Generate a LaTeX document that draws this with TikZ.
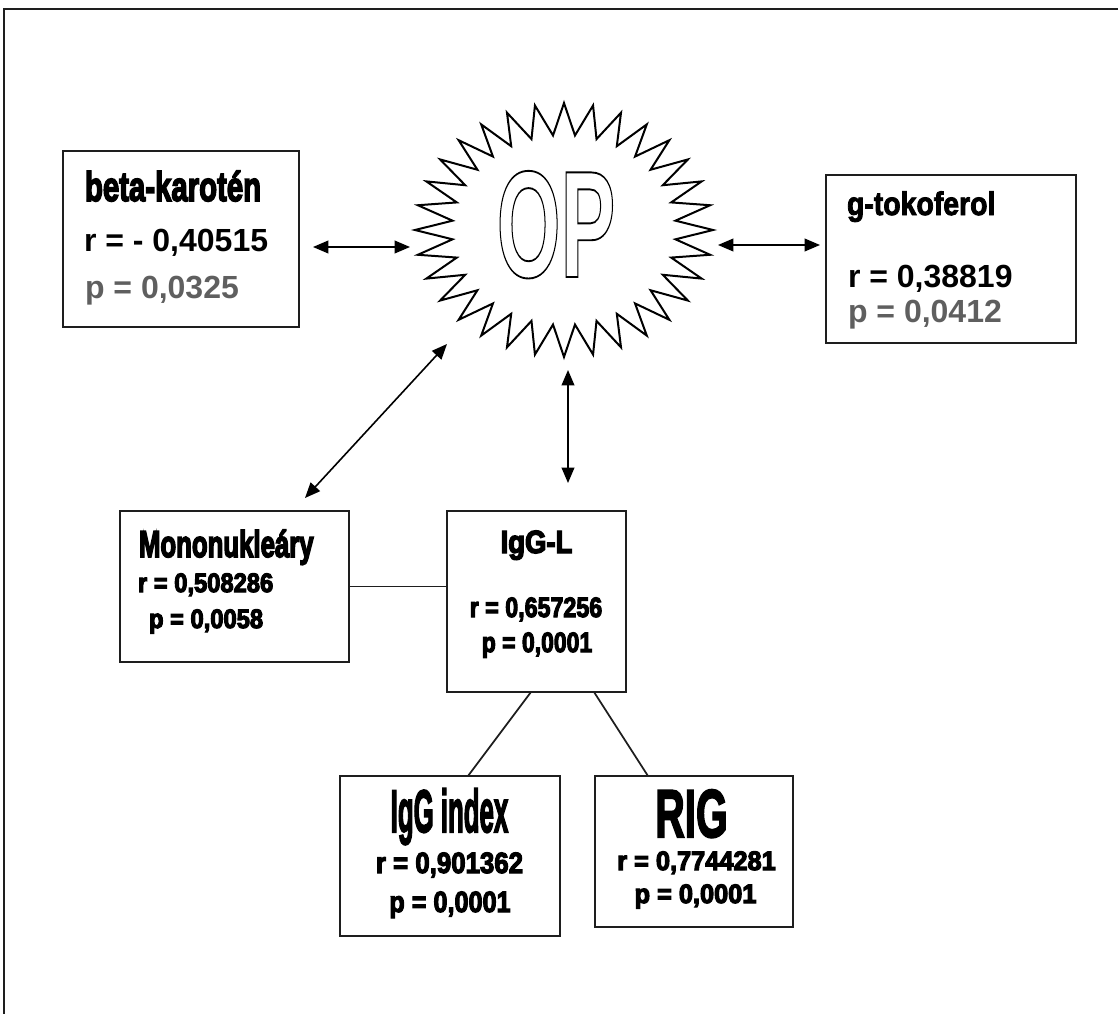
\documentclass[tikz,border=0pt]{standalone}
\usepackage{fontspec}
\setmainfont{Liberation Sans}
\usepackage{graphicx}
\usetikzlibrary{arrows.meta,calc,fit}
\definecolor{pgray}{RGB}{95,95,95}
\definecolor{ink}{RGB}{30,30,30}
% size, horizontal scale, text
\newcommand{\tx}[3]{{\fontsize{#1}{#1}\selectfont\bfseries\scalebox{#2}[1]{#3}}}
% size, horizontal scale, stroke width (heavier), text
\newcommand{\txh}[4]{{\fontsize{#1}{#1}\selectfont\bfseries\special{pdf:literal direct 2 Tr #3 w}\scalebox{#2}[1]{#4}\special{pdf:literal direct 0 Tr}}}
\begin{document}
\begin{tikzpicture}[x=0.75pt,y=-0.75pt,
  box/.style={draw=ink, line width=1.6pt, fill=white, inner sep=0pt, outer sep=0pt},
  lbl/.style={inner sep=0pt, outer sep=0pt, text=black},
  link/.style={draw=ink, line width=1.3pt},
  dbl/.style={draw=black, line width=1.2pt, {Triangle[length=11.5pt,width=9.5pt]}-{Triangle[length=11.5pt,width=9.5pt]}},
  burst/.style={draw=black, line width=1.5pt, fill=white, line join=miter},
  frame/.style={draw=ink, line width=2.2pt}
]
\useasboundingbox (0,0) rectangle (1118,1014);
\fill[white] (0,0) rectangle (1118,1014);
\draw[frame] (4,1014) -- (4,9) -- (1118,9);

% starburst
\coordinate (op) at (564,230);
\draw[burst] ({564+149},230)
  \foreach \k in {0,...,31} {
    -- ({564+112*cos(\k*11.25+5.625)},{230-95*sin(\k*11.25+5.625)})
    -- ({564+149*cos((\k+1)*11.25)},{230-127*sin((\k+1)*11.25)})
  } -- cycle;
\node[lbl, anchor=base] (optext) at (556,277)
  {\fontsize{114}{114}\selectfont\bfseries\special{pdf:literal direct 1 Tr 1.4 w}\scalebox{0.54}[1]{OP}\special{pdf:literal direct 0 Tr}};

% boxes
\node[box, fit={(63,151) (299,327)}] (beta) {};
\node[box, fit={(826,175) (1076,343)}] (gtok) {};
\node[box, fit={(120,511) (349,662)}] (mono) {};
\node[box, fit={(447,511) (626,692)}] (igl) {};
\node[box, fit={(340,776) (560,936)}] (idx) {};
\node[box, fit={(595,776) (793,927)}] (rig) {};

% texts
\node[lbl, anchor=base west] (bt1) at (85,201) {\txh{31}{0.71}{1.3}{beta-karotén}};
\node[lbl, anchor=base west] (bt2) at (84,251) {\tx{24}{1}{r = - 0,40515}};
\node[lbl, anchor=base west, text=pgray] (bt3) at (85,298) {\tx{24}{1}{p = 0,0325}};

\node[lbl, anchor=base west] (gt1) at (847,215) {\txh{24.5}{0.87}{0.7}{g-tokoferol}};
\node[lbl, anchor=base west] (gt2) at (848,287) {\tx{24}{1}{r = 0,38819}};
\node[lbl, anchor=base west, text=pgray] (gt3) at (848,322) {\tx{24}{1}{p = 0,0412}};

\node[lbl, anchor=base west] (mt1) at (139,557) {\txh{28}{0.69}{1.3}{Mononukleáry}};
\node[lbl, anchor=base west] (mt2) at (138,592) {\txh{20}{0.89}{0.9}{r = 0,508286}};
\node[lbl, anchor=base west] (mt3) at (149,628) {\txh{20}{0.89}{0.9}{p = 0,0058}};

\node[lbl, anchor=base] (it1) at (536.5,553) {\txh{24}{0.86}{1.1}{IgG-L}};
\node[lbl, anchor=base] (it2) at (536,617) {\txh{21}{0.83}{0.9}{r = 0,657256}};
\node[lbl, anchor=base] (it3) at (537,652) {\txh{21}{0.82}{0.9}{p = 0,0001}};

\node[lbl, anchor=base] (xt1) at (449.5,832) {\txh{45}{0.43}{1.6}{IgG index}};
\node[lbl, anchor=base] (xt2) at (449.5,873) {\txh{22}{0.88}{0.9}{r = 0,901362}};
\node[lbl, anchor=base] (xt3) at (450,912) {\txh{22}{0.86}{0.9}{p = 0,0001}};

\node[lbl, anchor=base] (rt1) at (691.5,837) {\txh{50.8}{0.6}{1.6}{RIG}};
\node[lbl, anchor=base] (rt2) at (696.5,870) {\txh{20}{0.95}{0.9}{r = 0,7744281}};
\node[lbl, anchor=base] (rt3) at (695.5,903) {\txh{20}{0.95}{0.9}{p = 0,0001}};

% connectors
\draw[dbl] ($(beta.east)+(14,8)$) -- ($(op)+(-154,17)$);
\draw[dbl] ($(op)+(154,15)$) -- ($(gtok.west)+(-6,-14)$);
\draw[dbl] ($(op)+(-117,114)$) -- ($(mono.north)+(70.5,-13)$);
\draw[dbl] ($(op)+(4,140)$) -- ($(igl.north)+(31.5,-28)$);
\draw[link] (mono.east) -- (mono.east -| igl.west);
\draw[link] ($(igl.south)+(-5.5,0)$) -- ($(idx.north)+(18,0)$);
\draw[link] ($(igl.south)+(57.5,0)$) -- ($(rig.north)+(-46,0)$);
\end{tikzpicture}
\end{document}
